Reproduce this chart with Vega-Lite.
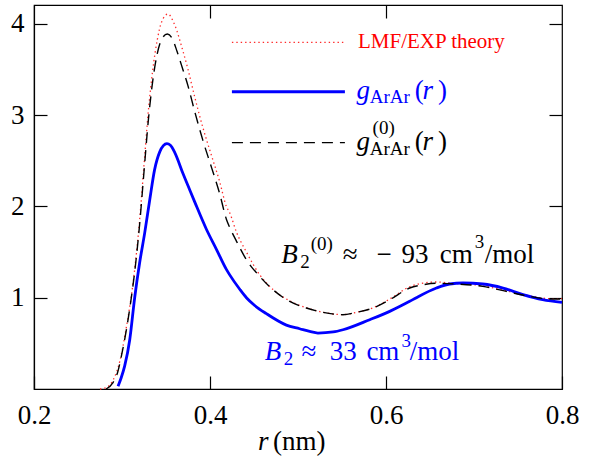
{
  "$schema": "https://vega.github.io/schema/vega-lite/v6.json",
  "width": 528,
  "height": 384,
  "autosize": {"type": "none"},
  "padding": {"left": 34, "top": 5, "right": 30, "bottom": 70},
  "background": "white",
  "config": {
    "font": "Liberation Serif, DejaVu Serif, serif",
    "view": {"stroke": "#000000", "strokeWidth": 1.2},
    "axis": {
      "labelFont": "Liberation Serif, DejaVu Serif, serif",
      "labelFontSize": 27,
      "labelColor": "#000000",
      "tickColor": "#000000",
      "domainColor": "#000000",
      "tickWidth": 1.2,
      "domainWidth": 1.2,
      "grid": false,
      "labelFlush": false,
      "labelOverlap": false,
      "labelBound": false,
      "zindex": 1
    },
    "text": {"font": "Liberation Serif, DejaVu Serif, serif", "align": "left", "baseline": "alphabetic"}
  },
  "datasets": {
    "curves": [
      {"series": "lmf", "part": "curve", "r": 0.275, "g": 0},
      {"series": "lmf", "part": "curve", "r": 0.283, "g": 0.02},
      {"series": "lmf", "part": "curve", "r": 0.29, "g": 0.1},
      {"series": "lmf", "part": "curve", "r": 0.2974, "g": 0.3},
      {"series": "lmf", "part": "curve", "r": 0.305, "g": 0.68},
      {"series": "lmf", "part": "curve", "r": 0.31, "g": 0.98},
      {"series": "lmf", "part": "curve", "r": 0.315, "g": 1.36},
      {"series": "lmf", "part": "curve", "r": 0.32, "g": 1.85},
      {"series": "lmf", "part": "curve", "r": 0.325, "g": 2.45},
      {"series": "lmf", "part": "curve", "r": 0.33, "g": 3.05},
      {"series": "lmf", "part": "curve", "r": 0.335, "g": 3.5},
      {"series": "lmf", "part": "curve", "r": 0.34, "g": 3.82},
      {"series": "lmf", "part": "curve", "r": 0.345, "g": 4.02},
      {"series": "lmf", "part": "curve", "r": 0.3523, "g": 4.107},
      {"series": "lmf", "part": "curve", "r": 0.358, "g": 4.03},
      {"series": "lmf", "part": "curve", "r": 0.3625, "g": 3.92},
      {"series": "lmf", "part": "curve", "r": 0.3675, "g": 3.76},
      {"series": "lmf", "part": "curve", "r": 0.375, "g": 3.5},
      {"series": "lmf", "part": "curve", "r": 0.3826, "g": 3.2},
      {"series": "lmf", "part": "curve", "r": 0.392, "g": 2.86},
      {"series": "lmf", "part": "curve", "r": 0.4016, "g": 2.56},
      {"series": "lmf", "part": "curve", "r": 0.411, "g": 2.27},
      {"series": "lmf", "part": "curve", "r": 0.4186, "g": 2.0},
      {"series": "lmf", "part": "curve", "r": 0.4224, "g": 1.93},
      {"series": "lmf", "part": "curve", "r": 0.43, "g": 1.72},
      {"series": "lmf", "part": "curve", "r": 0.4414, "g": 1.5},
      {"series": "lmf", "part": "curve", "r": 0.4565, "g": 1.25},
      {"series": "lmf", "part": "curve", "r": 0.4716, "g": 1.09},
      {"series": "lmf", "part": "curve", "r": 0.4906, "g": 0.965},
      {"series": "lmf", "part": "curve", "r": 0.5095, "g": 0.89},
      {"series": "lmf", "part": "curve", "r": 0.5284, "g": 0.84},
      {"series": "lmf", "part": "curve", "r": 0.5511, "g": 0.815},
      {"series": "lmf", "part": "curve", "r": 0.5664, "g": 0.84},
      {"series": "lmf", "part": "curve", "r": 0.5852, "g": 0.89},
      {"series": "lmf", "part": "curve", "r": 0.6042, "g": 0.985},
      {"series": "lmf", "part": "curve", "r": 0.6269, "g": 1.12},
      {"series": "lmf", "part": "curve", "r": 0.642, "g": 1.16},
      {"series": "lmf", "part": "curve", "r": 0.655, "g": 1.172},
      {"series": "lmf", "part": "curve", "r": 0.68, "g": 1.155},
      {"series": "lmf", "part": "curve", "r": 0.71, "g": 1.13},
      {"series": "lmf", "part": "curve", "r": 0.7368, "g": 1.075},
      {"series": "lmf", "part": "curve", "r": 0.7633, "g": 1.02},
      {"series": "lmf", "part": "curve", "r": 0.786, "g": 0.99},
      {"series": "lmf", "part": "curve", "r": 0.8, "g": 0.99},
      {"series": "lmf", "part": "key", "r": 0.4249, "g": 3.796},
      {"series": "lmf", "part": "key", "r": 0.5533, "g": 3.796},

      {"series": "g", "part": "curve", "r": 0.2955, "g": 0.03},
      {"series": "g", "part": "curve", "r": 0.299, "g": 0.12},
      {"series": "g", "part": "curve", "r": 0.303, "g": 0.25},
      {"series": "g", "part": "curve", "r": 0.3088, "g": 0.54},
      {"series": "g", "part": "curve", "r": 0.3144, "g": 1.0},
      {"series": "g", "part": "curve", "r": 0.32, "g": 1.38},
      {"series": "g", "part": "curve", "r": 0.3258, "g": 1.71},
      {"series": "g", "part": "curve", "r": 0.3315, "g": 2.07},
      {"series": "g", "part": "curve", "r": 0.337, "g": 2.4},
      {"series": "g", "part": "curve", "r": 0.343, "g": 2.6},
      {"series": "g", "part": "curve", "r": 0.347, "g": 2.665},
      {"series": "g", "part": "curve", "r": 0.351, "g": 2.687},
      {"series": "g", "part": "curve", "r": 0.355, "g": 2.67},
      {"series": "g", "part": "curve", "r": 0.36, "g": 2.59},
      {"series": "g", "part": "curve", "r": 0.3693, "g": 2.36},
      {"series": "g", "part": "curve", "r": 0.377, "g": 2.18},
      {"series": "g", "part": "curve", "r": 0.3826, "g": 2.05},
      {"series": "g", "part": "curve", "r": 0.3959, "g": 1.75},
      {"series": "g", "part": "curve", "r": 0.4073, "g": 1.53},
      {"series": "g", "part": "curve", "r": 0.4186, "g": 1.31},
      {"series": "g", "part": "curve", "r": 0.4224, "g": 1.25},
      {"series": "g", "part": "curve", "r": 0.434, "g": 1.09},
      {"series": "g", "part": "curve", "r": 0.4414, "g": 1.0},
      {"series": "g", "part": "curve", "r": 0.4508, "g": 0.915},
      {"series": "g", "part": "curve", "r": 0.4641, "g": 0.825},
      {"series": "g", "part": "curve", "r": 0.4868, "g": 0.7},
      {"series": "g", "part": "curve", "r": 0.5019, "g": 0.66},
      {"series": "g", "part": "curve", "r": 0.5133, "g": 0.63},
      {"series": "g", "part": "curve", "r": 0.5227, "g": 0.613},
      {"series": "g", "part": "curve", "r": 0.54, "g": 0.625},
      {"series": "g", "part": "curve", "r": 0.5511, "g": 0.649},
      {"series": "g", "part": "curve", "r": 0.5815, "g": 0.759},
      {"series": "g", "part": "curve", "r": 0.6042, "g": 0.85},
      {"series": "g", "part": "curve", "r": 0.6269, "g": 0.96},
      {"series": "g", "part": "curve", "r": 0.6345, "g": 1.0},
      {"series": "g", "part": "curve", "r": 0.6573, "g": 1.106},
      {"series": "g", "part": "curve", "r": 0.6724, "g": 1.15},
      {"series": "g", "part": "curve", "r": 0.6875, "g": 1.161},
      {"series": "g", "part": "curve", "r": 0.71, "g": 1.15},
      {"series": "g", "part": "curve", "r": 0.733, "g": 1.106},
      {"series": "g", "part": "curve", "r": 0.7557, "g": 1.033},
      {"series": "g", "part": "curve", "r": 0.778, "g": 0.978},
      {"series": "g", "part": "curve", "r": 0.8, "g": 0.949},
      {"series": "g", "part": "key", "r": 0.4249, "g": 3.256},
      {"series": "g", "part": "key", "r": 0.5533, "g": 3.256},

      {"series": "g0", "part": "curve", "r": 0.282, "g": 0},
      {"series": "g0", "part": "curve", "r": 0.2898, "g": 0.07},
      {"series": "g0", "part": "curve", "r": 0.295, "g": 0.18},
      {"series": "g0", "part": "curve", "r": 0.2993, "g": 0.36},
      {"series": "g0", "part": "curve", "r": 0.305, "g": 0.65},
      {"series": "g0", "part": "curve", "r": 0.31, "g": 0.96},
      {"series": "g0", "part": "curve", "r": 0.315, "g": 1.33},
      {"series": "g0", "part": "curve", "r": 0.32, "g": 1.8},
      {"series": "g0", "part": "curve", "r": 0.325, "g": 2.38},
      {"series": "g0", "part": "curve", "r": 0.33, "g": 2.95},
      {"series": "g0", "part": "curve", "r": 0.335, "g": 3.38},
      {"series": "g0", "part": "curve", "r": 0.34, "g": 3.67},
      {"series": "g0", "part": "curve", "r": 0.345, "g": 3.83},
      {"series": "g0", "part": "curve", "r": 0.3516, "g": 3.888},
      {"series": "g0", "part": "curve", "r": 0.357, "g": 3.84},
      {"series": "g0", "part": "curve", "r": 0.3625, "g": 3.7},
      {"series": "g0", "part": "curve", "r": 0.3675, "g": 3.55},
      {"series": "g0", "part": "curve", "r": 0.375, "g": 3.32},
      {"series": "g0", "part": "curve", "r": 0.3826, "g": 3.04},
      {"series": "g0", "part": "curve", "r": 0.392, "g": 2.72},
      {"series": "g0", "part": "curve", "r": 0.4016, "g": 2.43},
      {"series": "g0", "part": "curve", "r": 0.411, "g": 2.14},
      {"series": "g0", "part": "curve", "r": 0.4186, "g": 1.86},
      {"series": "g0", "part": "curve", "r": 0.4224, "g": 1.77},
      {"series": "g0", "part": "curve", "r": 0.43, "g": 1.62},
      {"series": "g0", "part": "curve", "r": 0.4414, "g": 1.416},
      {"series": "g0", "part": "curve", "r": 0.4565, "g": 1.233},
      {"series": "g0", "part": "curve", "r": 0.4716, "g": 1.088},
      {"series": "g0", "part": "curve", "r": 0.4906, "g": 0.959},
      {"series": "g0", "part": "curve", "r": 0.5095, "g": 0.887},
      {"series": "g0", "part": "curve", "r": 0.5284, "g": 0.839},
      {"series": "g0", "part": "curve", "r": 0.5511, "g": 0.814},
      {"series": "g0", "part": "curve", "r": 0.5664, "g": 0.839},
      {"series": "g0", "part": "curve", "r": 0.5852, "g": 0.887},
      {"series": "g0", "part": "curve", "r": 0.6042, "g": 0.978},
      {"series": "g0", "part": "curve", "r": 0.6269, "g": 1.106},
      {"series": "g0", "part": "curve", "r": 0.642, "g": 1.142},
      {"series": "g0", "part": "curve", "r": 0.6573, "g": 1.158},
      {"series": "g0", "part": "curve", "r": 0.68, "g": 1.15},
      {"series": "g0", "part": "curve", "r": 0.71, "g": 1.124},
      {"series": "g0", "part": "curve", "r": 0.7368, "g": 1.069},
      {"series": "g0", "part": "curve", "r": 0.7633, "g": 1.014},
      {"series": "g0", "part": "curve", "r": 0.786, "g": 0.986},
      {"series": "g0", "part": "curve", "r": 0.8, "g": 0.985},
      {"series": "g0", "part": "key", "r": 0.4249, "g": 2.699},
      {"series": "g0", "part": "key", "r": 0.5533, "g": 2.699}
    ],
    "labels": [
      {"kind": "big", "series": "g0", "text": "≈", "r": 0.5508, "g": 1.383},
      {"kind": "big", "series": "g0", "text": "−", "r": 0.5891, "g": 1.383},
      {"kind": "big", "series": "g0", "text": "93", "r": 0.6175, "g": 1.383},
      {"kind": "big", "series": "g0", "text": "cm", "r": 0.661, "g": 1.383},
      {"kind": "big", "series": "g0", "text": "/mol", "r": 0.7122, "g": 1.383},
      {"kind": "big", "series": "g", "text": "≈", "r": 0.5039, "g": 0.321},
      {"kind": "big", "series": "g", "text": "33", "r": 0.536, "g": 0.321},
      {"kind": "big", "series": "g", "text": "cm", "r": 0.5777, "g": 0.321},
      {"kind": "big", "series": "g", "text": "/mol", "r": 0.6269, "g": 0.321},
      {"kind": "big", "series": "g", "text": "(", "r": 0.6326, "g": 3.174},
      {"kind": "big", "series": "g", "text": ")", "r": 0.6591, "g": 3.174},
      {"kind": "big", "series": "g0", "text": "(", "r": 0.6326, "g": 2.621},
      {"kind": "big", "series": "g0", "text": ")", "r": 0.6591, "g": 2.621},
      {"kind": "big", "series": "axis", "text": "(nm)", "r": 0.4716, "g": -0.665},
      {"kind": "italic", "series": "g0", "text": "B", "r": 0.4811, "g": 1.383},
      {"kind": "italic", "series": "g", "text": "B", "r": 0.4622, "g": 0.321},
      {"kind": "italic", "series": "g", "text": "g", "r": 0.5664, "g": 3.174},
      {"kind": "italic", "series": "g", "text": "r", "r": 0.6414, "g": 3.174},
      {"kind": "italic", "series": "g0", "text": "g", "r": 0.5664, "g": 2.621},
      {"kind": "italic", "series": "g0", "text": "r", "r": 0.6414, "g": 2.621},
      {"kind": "italic", "series": "axis", "text": "r", "r": 0.4545, "g": -0.665},
      {"kind": "small", "series": "g0", "text": "2", "r": 0.5025, "g": 1.329},
      {"kind": "small", "series": "g0", "text": "(0)", "r": 0.5144, "g": 1.526},
      {"kind": "small", "series": "g0", "text": "3", "r": 0.7008, "g": 1.548},
      {"kind": "small", "series": "g", "text": "2", "r": 0.4838, "g": 0.266},
      {"kind": "small", "series": "g", "text": "3", "r": 0.6175, "g": 0.463},
      {"kind": "small", "series": "g", "text": "ArAr", "r": 0.5815, "g": 3.132},
      {"kind": "small", "series": "g0", "text": "ArAr", "r": 0.5815, "g": 2.566},
      {"kind": "small", "series": "g0", "text": "(0)", "r": 0.5848, "g": 2.796},
      {"kind": "key", "series": "lmf", "text": "LMF/EXP theory", "r": 0.5682, "g": 3.735}
    ]
  },
  "resolve": {"axis": {"x": "independent", "y": "independent"}},
  "layer": [
    {
      "mark": {"type": "rule", "color": "#b3b3b3", "strokeWidth": 1.3, "strokeDash": [13, 10]},
      "encoding": {
        "y": {"datum": 1, "type": "quantitative", "scale": {"domain": [0, 4.206], "nice": false, "zero": false}, "axis": null}
      }
    },
    {
      "data": {"name": "curves"},
      "transform": [{"filter": "datum.series === 'lmf'"}],
      "mark": {"type": "line", "color": "#ff2a2a", "strokeWidth": 1.3, "strokeDash": [1.4, 3], "interpolate": "monotone"},
      "encoding": {
        "x": {"field": "r", "type": "quantitative", "scale": {"domain": [0.2, 0.8], "nice": false, "zero": false},
              "axis": {"orient": "bottom", "title": null, "values": [0.2, 0.4, 0.6, 0.8], "format": ".1f", "tickSize": -13, "labelPadding": 26}},
        "y": {"field": "g", "type": "quantitative", "scale": {"domain": [0, 4.206], "nice": false, "zero": false},
              "axis": {"orient": "left", "title": null, "values": [1, 2, 3, 4], "format": "d", "tickSize": -13, "labelPadding": 23}},
        "detail": {"field": "part"}
      }
    },
    {
      "data": {"name": "curves"},
      "transform": [{"filter": "datum.series === 'g'"}],
      "mark": {"type": "line", "color": "#0000ff", "strokeWidth": 2.8, "interpolate": "monotone"},
      "encoding": {
        "x": {"field": "r", "type": "quantitative",
              "axis": {"orient": "top", "title": null, "values": [0.4, 0.6], "labels": false, "domain": false, "tickSize": -13}},
        "y": {"field": "g", "type": "quantitative",
              "axis": {"orient": "right", "title": null, "values": [1, 2, 3, 4], "labels": false, "domain": false, "tickSize": -13}},
        "detail": {"field": "part"}
      }
    },
    {
      "data": {"name": "curves"},
      "transform": [{"filter": "datum.series === 'g0'"}],
      "mark": {"type": "line", "color": "#000000", "strokeWidth": 1.4, "strokeDash": [11, 7], "interpolate": "monotone"},
      "encoding": {
        "x": {"field": "r", "type": "quantitative", "axis": null},
        "y": {"field": "g", "type": "quantitative", "axis": null},
        "detail": {"field": "part"}
      }
    },
    {
      "data": {"name": "labels"},
      "transform": [{"filter": "datum.kind === 'big'"}],
      "mark": {"type": "text", "fontSize": 27},
      "encoding": {
        "x": {"field": "r", "type": "quantitative", "axis": null},
        "y": {"field": "g", "type": "quantitative", "axis": null},
        "text": {"field": "text"},
        "color": {"field": "series", "type": "nominal", "legend": null,
                  "scale": {"domain": ["lmf", "g", "g0", "axis"], "range": ["#ff0000", "#0000ff", "#000000", "#000000"]}}
      }
    },
    {
      "data": {"name": "labels"},
      "transform": [{"filter": "datum.kind === 'italic'"}],
      "mark": {"type": "text", "fontSize": 27, "fontStyle": "italic"},
      "encoding": {
        "x": {"field": "r", "type": "quantitative", "axis": null},
        "y": {"field": "g", "type": "quantitative", "axis": null},
        "text": {"field": "text"},
        "color": {"field": "series", "type": "nominal", "legend": null}
      }
    },
    {
      "data": {"name": "labels"},
      "transform": [{"filter": "datum.kind === 'small'"}],
      "mark": {"type": "text", "fontSize": 19},
      "encoding": {
        "x": {"field": "r", "type": "quantitative", "axis": null},
        "y": {"field": "g", "type": "quantitative", "axis": null},
        "text": {"field": "text"},
        "color": {"field": "series", "type": "nominal", "legend": null}
      }
    },
    {
      "data": {"name": "labels"},
      "transform": [{"filter": "datum.kind === 'key'"}],
      "mark": {"type": "text", "fontSize": 21},
      "encoding": {
        "x": {"field": "r", "type": "quantitative", "axis": null},
        "y": {"field": "g", "type": "quantitative", "axis": null},
        "text": {"field": "text"},
        "color": {"field": "series", "type": "nominal", "legend": null}
      }
    }
  ]
}
